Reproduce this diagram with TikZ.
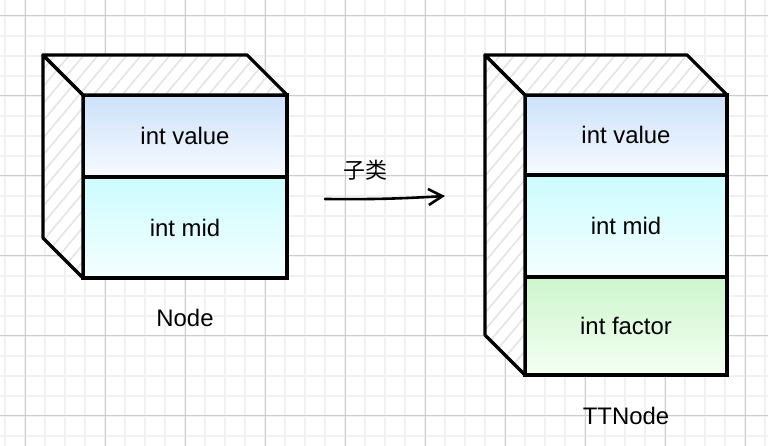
\documentclass[tikz,border=0pt]{standalone}
\usepackage{fontspec}
\setmainfont{Liberation Sans}
\newfontfamily\cjkfont{Noto Sans CJK SC}
\usepackage{xcolor}
\usepackage{tikz}
\usetikzlibrary{calc,positioning,arrows.meta,patterns.meta}

\definecolor{valtop}{HTML}{CCE1FA}
\definecolor{valbot}{HTML}{F7FAFF}
\definecolor{midtop}{HTML}{CCFCFF}
\definecolor{midbot}{HTML}{F4FEFF}
\definecolor{factop}{HTML}{CDF6CC}
\definecolor{facbot}{HTML}{F4FFF3}
\definecolor{hatch}{HTML}{E4E4E4}
\definecolor{minorline}{HTML}{F1F1F1}
\definecolor{majorline}{HTML}{CCCCCC}

\begin{document}
\begin{tikzpicture}[x=0.5bp,y=-0.5bp,
  minorgrid/.style={minorline,line width=1bp},
  majorgrid/.style={majorline,line width=0.5bp},
  cell/.style={draw=black,line width=1.6bp,rectangle,inner sep=0pt,outer sep=0pt,font=\fontsize{12}{14}\selectfont},
  valuecell/.style={cell,top color=valtop,bottom color=valbot},
  midcell/.style={cell,top color=midtop,bottom color=midbot},
  factorcell/.style={cell,top color=factop,bottom color=facbot},
  face/.style={draw=black,line width=1.6bp,line join=round,preaction={fill=white},pattern={Lines[angle=50,distance=5.5bp,line width=0.8bp]},pattern color=hatch},
  caption/.style={font=\fontsize{12}{14}\selectfont},
  arr/.style={line width=1.3bp,line cap=round,-{Straight Barb[length=7bp,width=8bp,line width=1.3bp]}}]
        \useasboundingbox (0,0) rectangle (768,446);
        \fill[white] (0,0) rectangle (768,446);
        \foreach \gx in {5,25,...,765} \draw[minorgrid] (\gx,0) -- (\gx,446);
        \foreach \gy in {16,36,...,436} \draw[minorgrid] (0,\gy) -- (768,\gy);
        \foreach \gx in {25,105,...,745} \draw[majorgrid] (\gx,0) -- (\gx,446);
        \foreach \gy in {16,96,...,416} \draw[majorgrid] (0,\gy) -- (768,\gy);

        \node[valuecell,minimum width=102bp,minimum height=41bp] (value1) at (185,136) {int value};
        \node[midcell,minimum width=102bp,minimum height=50.5bp,below=0pt of value1] (mid1) {int mid};
        \filldraw[face] (value1.north west) -- ++(-40,-40) -- ($(mid1.south west)+(-40,-40)$) -- (mid1.south west) -- cycle;
        \filldraw[face] (value1.north west) -- ++(-40,-40) -- ($(value1.north east)+(-40,-40)$) -- (value1.north east) -- cycle;
        \node[caption] (node) at (185,318) {Node};

        \node[valuecell,minimum width=101bp,minimum height=40bp] (value2) at (626,135) {int value};
        \node[midcell,minimum width=101bp,minimum height=51bp,below=0pt of value2] (mid2) {int mid};
        \node[factorcell,minimum width=101bp,minimum height=49bp,below=0pt of mid2] (factor2) {int factor};
        \filldraw[face] (value2.north west) -- ++(-40,-40) -- ($(factor2.south west)+(-40,-40)$) -- (factor2.south west) -- cycle;
        \filldraw[face] (value2.north west) -- ++(-40,-40) -- ($(value2.north east)+(-40,-40)$) -- (value2.north east) -- cycle;
        \node[caption] (ttnode) at (626,416) {TTNode};

        \coordinate (tail) at (325,199);
        \coordinate (head) at (445,196);
        \draw[arr] (tail) to[bend right=2] (head);
        \node[font=\cjkfont\fontsize{11}{13}\selectfont] (sub) at (365,170) {子类};
\end{tikzpicture}
\end{document}
